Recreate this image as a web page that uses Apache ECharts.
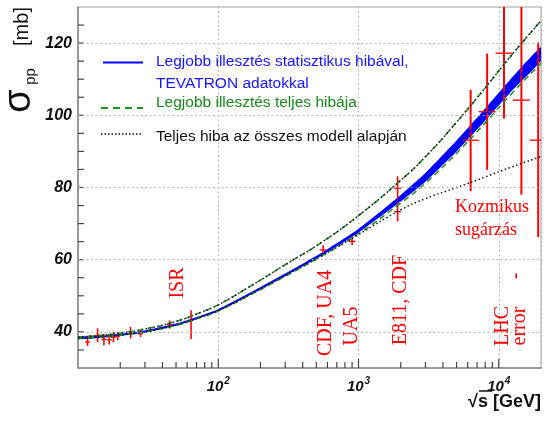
<!DOCTYPE html>
<html>
<head>
<meta charset="utf-8">
<script src="https://cdn.jsdelivr.net/npm/echarts@6/dist/echarts.min.js"></script>
<style>
  html, body { margin: 0; padding: 0; background: #fff; }
  #main { width: 551px; height: 421px; }
</style>
</head>
<body>
<div id="main"></div>
<script>
// illesztett görbék (sqrt(s) [GeV] -> sigma_pp [mb])
const fitS = [10, 15, 20, 30, 50, 75, 100, 170, 300, 550, 1000, 2000, 3000, 5000, 8000, 12000, 20000];
const fitMid = [38.3, 38.7, 39.2, 40.1, 42.0, 44.2, 46.0, 50.6, 55.8, 61.6, 68.0, 77.0, 82.8, 91.5, 100.2, 108.0, 117.0];
const statLo = [38.0, 38.4, 38.9, 39.8, 41.7, 43.9, 45.7, 50.3, 55.45, 61.2, 67.5, 76.1, 81.6, 90.0, 98.5, 106.2, 115.1];
const statHi = [38.6, 39.0, 39.5, 40.4, 42.3, 44.5, 46.3, 50.9, 56.15, 62.0, 68.5, 77.9, 84.0, 93.0, 101.9, 109.8, 118.9];
const totHi = [38.6, 39.1, 39.7, 40.8, 42.9, 45.4, 47.5, 52.7, 58.6, 64.9, 72.2, 82.0, 88.5, 98.1, 107.6, 116.1, 126.2];
const totLo = [38.2, 38.6, 39.1, 40.0, 41.85, 44.0, 45.8, 50.3, 55.4, 61.1, 67.2, 75.7, 81.2, 89.5, 97.9, 105.5, 114.4];
const modelHi = [38.6, 39.1, 39.7, 40.8, 42.9, 45.4, 47.5, 52.7, 58.6, 64.9, 72.2, 82.0, 88.5, 98.1, 107.6, 116.1, 126.2];
const modelLo = [38.2, 38.6, 39.1, 40.0, 41.9, 44.1, 45.9, 50.4, 55.6, 61.1, 67.0, 73.8, 76.9, 80.0, 82.9, 85.5, 88.6];

// mérési pontok
const lowS = [11.7, 13.8, 15.3, 16.7, 17.9, 19.2, 23.7, 27.9, 45, 64];
const lowSig = [37.2, 39.0, 37.9, 37.8, 38.5, 38.8, 39.8, 39.5, 42.0, 43.2];
const lowLo = [36.1, 37.2, 36.3, 36.5, 37.1, 37.7, 38.2, 38.6, 40.9, 38.0];
const lowHi = [38.2, 41.0, 39.5, 39.1, 40.0, 40.0, 41.4, 40.5, 43.2, 46.0];

const colS = [560, 900, 1900, 1900];
const colSig = [62.7, 65.1, 79.8, 73.3];
const colLo = [61.3, 64.1, 76.9, 70.6];
const colHi = [64.0, 66.2, 83.1, 76.2];

const cosS = [6300, 8260, 10900, 14500, 19100];
const cosSig = [93.1, 101.0, 117.2, 104.2, 93.1];
const cosLo = [79.0, 84.9, 99.1, 78.0, 66.3];
const cosHi = [107.1, 117.1, 135, 135, 120.2];

// tengely feliratok, osztások
const yTickVals = [40, 60, 80, 100, 120];
const yAllTicks = [35, 40, 45, 50, 55, 60, 65, 70, 75, 80, 85, 90, 95, 100, 105, 110, 115, 120, 125];
const xTickVals = [100, 1000, 10000];
const xTickExp = ['2', '3', '4'];
const xMinorTicks = [20, 30, 40, 50, 60, 70, 80, 90, 200, 300, 400, 500, 600, 700, 800, 900,
  2000, 3000, 4000, 5000, 6000, 7000, 8000, 9000];

const RED = '#ff0000';
const BLUE = '#0000ff';
const GREEN = '#1f911f';
const TICK = '#444444';
const SANS = '"Liberation Sans", Arial, sans-serif';
const SERIF = '"Liberation Serif", "Times New Roman", serif';

const pairs = (xs, ys) => xs.map((x, i) => [x, ys[i]]);
const bars = (xs, ys, lo, hi) => xs.map((x, i) => [x, ys[i], lo[i], hi[i]]);

function errBar(cap, width) {
  return function (params, api) {
    const c = api.coord([api.value(0), api.value(1)]);
    const top = api.coord([api.value(0), api.value(3)]);
    const bot = api.coord([api.value(0), api.value(2)]);
    return {
      type: 'group',
      children: [
        { type: 'line', shape: { x1: c[0], y1: top[1], x2: c[0], y2: bot[1] }, style: { stroke: RED, lineWidth: width } },
        { type: 'line', shape: { x1: c[0] - cap, y1: c[1], x2: c[0] + cap, y2: c[1] }, style: { stroke: RED, lineWidth: 1.3 } }
      ]
    };
  };
}

function rotText(text, x, y, size) {
  return {
    type: 'text', x: x, y: y, rotation: Math.PI / 2, z: 50,
    style: { text: text, fill: RED, fontSize: size, fontFamily: SERIF, textAlign: 'center', textVerticalAlign: 'middle', align: 'center', verticalAlign: 'middle' }
  };
}

function plainText(text, x, y, color, size, extra) {
  return {
    type: 'text', x: x, y: y, z: 50,
    style: Object.assign({ text: text, fill: color, fontSize: size, fontFamily: SANS, textAlign: 'left', textVerticalAlign: 'middle', align: 'left', verticalAlign: 'middle' }, extra || {})
  };
}

const chart = echarts.init(document.getElementById('main'));
const option = {
  animation: false,
  grid: { left: 78, right: 10, top: 7, bottom: 53, show: true, borderColor: '#a0a0a0', borderWidth: 1 },
  xAxis: {
    type: 'log', logBase: 10, min: 10, max: 20000,
    axisLine: { lineStyle: { color: '#8a8a8a', width: 1.5 } },
    axisTick: { show: false },
    splitLine: { show: true, lineStyle: { color: '#a8a8a8', type: [1.5, 3], width: 1 } },
    axisLabel: {
      margin: 8,
      formatter: function (v) {
        const i = xTickVals.indexOf(Math.round(v));
        return i < 0 ? '' : '{b|10}{sup|' + xTickExp[i] + '}';
      },
      rich: {
        b: { fontSize: 15, fontWeight: 'bold', fontStyle: 'italic', fontFamily: SANS, color: '#111' },
        sup: { fontSize: 10, fontWeight: 'bold', fontStyle: 'italic', fontFamily: SANS, color: '#111', padding: [0, 0, 12, 1] }
      }
    }
  },
  yAxis: {
    type: 'value', min: 30, max: 130, interval: 10,
    axisLine: { show: true, lineStyle: { color: '#8a8a8a', width: 1.5 } },
    axisTick: { show: false },
    splitLine: { show: false },
    axisLabel: {
      margin: 6, fontSize: 16, fontWeight: 'bold', fontStyle: 'italic', fontFamily: SANS, color: '#111',
      formatter: function (v) { return yTickVals.indexOf(v) < 0 ? '' : String(v); }
    }
  },
  series: [
    {
      // statisztikus hibasáv + tengelyosztások
      type: 'custom', clip: true, silent: true,
      data: [[fitS[0], fitMid[0]]],
      renderItem: function (params, api) {
        if (params.dataIndex !== 0) return null;
        const pts = fitS.map((s, i) => api.coord([s, statHi[i]]));
        for (let i = fitS.length - 1; i >= 0; i--) pts.push(api.coord([fitS[i], statLo[i]]));
        const children = [{ type: 'polygon', shape: { points: pts, smooth: 0.15 }, style: { fill: BLUE } }];
        xMinorTicks.forEach(function (v) {
          const p = api.coord([v, 30]);
          children.push({ type: 'line', shape: { x1: p[0], y1: p[1], x2: p[0], y2: p[1] - 6 }, style: { stroke: TICK, lineWidth: 1.2 } });
        });
        xTickVals.forEach(function (v) {
          const p = api.coord([v, 30]);
          children.push({ type: 'line', shape: { x1: p[0], y1: p[1], x2: p[0], y2: p[1] - 9 }, style: { stroke: TICK, lineWidth: 1.2 } });
        });
        yAllTicks.forEach(function (v) {
          const p = api.coord([10, v]);
          children.push({ type: 'line', shape: { x1: p[0], y1: p[1], x2: p[0] + 6, y2: p[1] }, style: { stroke: TICK, lineWidth: 1.2 } });
        });
        return { type: 'group', children: children };
      }
    },
    {
      type: 'line', data: pairs(fitS, fitMid), smooth: true, showSymbol: false, silent: true,
      lineStyle: { color: BLUE, width: 1.2 },
      markLine: {
        silent: true, symbol: 'none', label: { show: false },
        lineStyle: { color: '#a8a8a8', type: [1.5, 3], width: 1 },
        data: yTickVals.map(v => ({ yAxis: v }))
      }
    },
    { type: 'line', data: pairs(fitS, totHi), smooth: true, showSymbol: false, silent: true, lineStyle: { color: GREEN, width: 1.5, type: [6, 4] } },
    { type: 'line', data: pairs(fitS, totLo), smooth: true, showSymbol: false, silent: true, lineStyle: { color: GREEN, width: 1.5, type: [6, 4] } },
    { type: 'line', data: pairs(fitS, modelHi), smooth: true, showSymbol: false, silent: true, lineStyle: { color: '#1a1a1a', width: 1.5, type: [1.5, 2.5] } },
    { type: 'line', data: pairs(fitS, modelLo), smooth: true, showSymbol: false, silent: true, lineStyle: { color: '#1a1a1a', width: 1.5, type: [1.5, 2.5] } },
    { type: 'custom', clip: true, silent: true, data: bars(lowS, lowSig, lowLo, lowHi), renderItem: errBar(2.5, 1.6) },
    { type: 'custom', clip: true, silent: true, data: bars(colS, colSig, colLo, colHi), renderItem: errBar(3.5, 1.6) },
    { type: 'custom', clip: true, silent: true, data: bars(cosS, cosSig, cosLo, cosHi), renderItem: errBar(8.5, 2) }
  ],
  graphic: [
    // jelmagyarázat
    { type: 'line', z: 50, shape: { x1: 103, y1: 62.5, x2: 143, y2: 62.5 }, style: { stroke: BLUE, lineWidth: 2 } },
    plainText('Legjobb illesztés statisztikus hibával,', 156, 62, '#1414ff', 15.5),
    plainText('TEVATRON adatokkal', 156, 84, '#1414ff', 15.5),
    { type: 'line', z: 50, shape: { x1: 101, y1: 108, x2: 143, y2: 108 }, style: { stroke: GREEN, lineWidth: 2, lineDash: [7, 5] } },
    plainText('Legjobb illesztés teljes hibája', 156, 102.5, '#178a17', 15.5),
    { type: 'line', z: 50, shape: { x1: 101, y1: 134, x2: 143, y2: 134 }, style: { stroke: '#111', lineWidth: 1.5, lineDash: [1.5, 2] } },
    plainText('Teljes hiba az összes modell alapján', 156, 136.5, '#111', 15.5),
    // tengelycímek
    { type: 'text', x: 20, y: 101, rotation: Math.PI / 2, z: 50, style: { text: 'σ', fill: '#111', fontSize: 38, fontFamily: SANS, textAlign: 'center', textVerticalAlign: 'middle', align: 'center', verticalAlign: 'middle' } },
    { type: 'text', x: 31, y: 76.5, rotation: Math.PI / 2, z: 50, style: { text: 'pp', fill: '#111', fontSize: 15, fontFamily: SANS, textAlign: 'center', textVerticalAlign: 'middle', align: 'center', verticalAlign: 'middle' } },
    { type: 'text', x: 22, y: 26.5, rotation: Math.PI / 2, z: 50, style: { text: '[mb]', fill: '#111', fontSize: 20, fontFamily: SANS, textAlign: 'center', textVerticalAlign: 'middle', align: 'center', verticalAlign: 'middle' } },
    plainText('√s [GeV]', 541, 402, '#111', 18, { fontWeight: 'bold', textAlign: 'right', align: 'right' }),
    { type: 'line', z: 50, shape: { x1: 479, y1: 391, x2: 492, y2: 391 }, style: { stroke: '#111', lineWidth: 1.5 } },
    // kísérletek feliratai
    rotText('ISR', 178, 283, 20),
    rotText('CDF, UA4', 326, 313, 20),
    rotText('UA5', 352, 326, 20),
    rotText('E811, CDF', 401, 300, 20),
    rotText('LHC', 503, 326, 20),
    rotText('error', 519.5, 326, 20),
    rotText('-', 516, 276, 20),
    plainText('Kozmikus', 455, 207, RED, 18, { fontFamily: SERIF }),
    plainText('sugárzás', 455, 230, RED, 18, { fontFamily: SERIF })
  ]
};
chart.setOption(option);
</script>
</body>
</html>
